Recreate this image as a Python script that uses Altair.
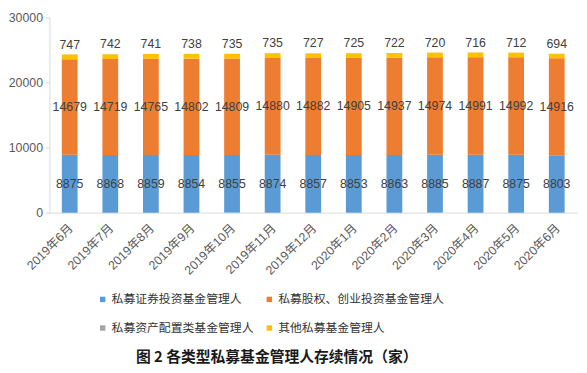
import altair as alt
import pandas as pd

months = ["2019年6月", "2019年7月", "2019年8月", "2019年9月", "2019年10月", "2019年11月",
          "2019年12月", "2020年1月", "2020年2月", "2020年3月", "2020年4月", "2020年5月", "2020年6月"]
series = ["私募证券投资基金管理人", "私募股权、创业投资基金管理人", "私募资产配置类基金管理人", "其他私募基金管理人"]
colors = ["#5B9BD5", "#ED7D31", "#A5A5A5", "#FFC000"]
securities = [8875, 8868, 8859, 8854, 8855, 8874, 8857, 8853, 8863, 8885, 8887, 8875, 8803]
equity = [14679, 14719, 14765, 14802, 14809, 14880, 14882, 14905, 14937, 14974, 14991, 14992, 14916]
allocation = [7, 7, 8, 8, 8, 8, 9, 9, 9, 9, 9, 9, 9]
other = [747, 742, 741, 738, 735, 735, 727, 725, 722, 720, 716, 712, 694]
y_ticks = [0, 5000, 10000, 15000, 20000, 25000, 30000]

rows = []
for i, m in enumerate(months):
    for k, vals in enumerate([securities, equity, allocation, other]):
        rows.append({"month": m, "series": series[k], "idx": k, "value": vals[i]})
df = pd.DataFrame(rows)

FONT = "Liberation Sans, Noto Sans CJK SC"
CJK = "Noto Sans CJK SC"

x_enc = alt.X("month:N", sort=months, title=None,
              scale=alt.Scale(paddingInner=0, paddingOuter=0),
              axis=alt.Axis(labelAngle=-45, labelFont=FONT, labelFontSize=12.5,
                            labelColor="#595959", domainColor="#d9d9d9", ticks=False,
                            labelPadding=9, labelOffset=-3))

bars = alt.Chart(df).mark_bar(size=16).encode(
    x=x_enc,
    y=alt.Y("value:Q", stack="zero", title=None,
            scale=alt.Scale(domain=[0, 30000], nice=False),
            axis=alt.Axis(values=y_ticks, format="d", grid=False, labelFont=FONT, labelFontSize=12.5,
                          labelColor="#595959", domainColor="#d9d9d9", tickColor="#d9d9d9",
                          tickSize=4, labelPadding=3)),
    color=alt.Color("series:N", sort=series,
                    scale=alt.Scale(domain=series, range=colors),
                    legend=alt.Legend(title=None, orient="none", legendX=48, legendY=280,
                                      direction="horizontal", columns=2, columnPadding=9,
                                      rowPadding=17, labelLimit=300,
                                      symbolType="square", symbolSize=30, symbolStrokeWidth=0,
                                      labelFont=CJK, labelFontSize=12, labelColor="#333333",
                                      labelOffset=3)),
    order=alt.Order("idx:Q", sort="ascending"),
)

stacked = alt.Chart(df).transform_stack(
    stack="value", groupby=["month"], as_=["y0", "y1"],
    sort=[alt.SortField("idx", order="ascending")]
).transform_calculate(mid="(datum.y0 + datum.y1) / 2")

mid_labels = stacked.transform_filter("datum.idx <= 1").mark_text(
    font=FONT, fontSize=12.5, color="#404040", baseline="middle"
).encode(x=alt.X("month:N", sort=months), y=alt.Y("mid:Q"), text=alt.Text("value:Q", format="d"))

top_labels = stacked.transform_filter("datum.idx == 3").mark_text(
    font=FONT, fontSize=12.5, color="#404040", baseline="middle", dy=-10
).encode(x=alt.X("month:N", sort=months), y=alt.Y("y1:Q"), text=alt.Text("value:Q", format="d"))

chart = alt.layer(bars, mid_labels, top_labels).properties(
    width=535, height=198,
    padding={"left": 42, "top": 7, "right": 2, "bottom": 152},
    autosize=alt.AutoSizeParams(type="none"),
    title=alt.TitleParams("图 2  各类型私募基金管理人存续情况（家）", orient="bottom",
                          anchor="middle", dx=-37, offset=16, font=CJK, fontSize=15,
                          fontWeight="bold", color="#1a1a1a"),
).configure_view(stroke=None)

chart.save("out.html", embed_options={"renderer": "svg", "actions": False})
